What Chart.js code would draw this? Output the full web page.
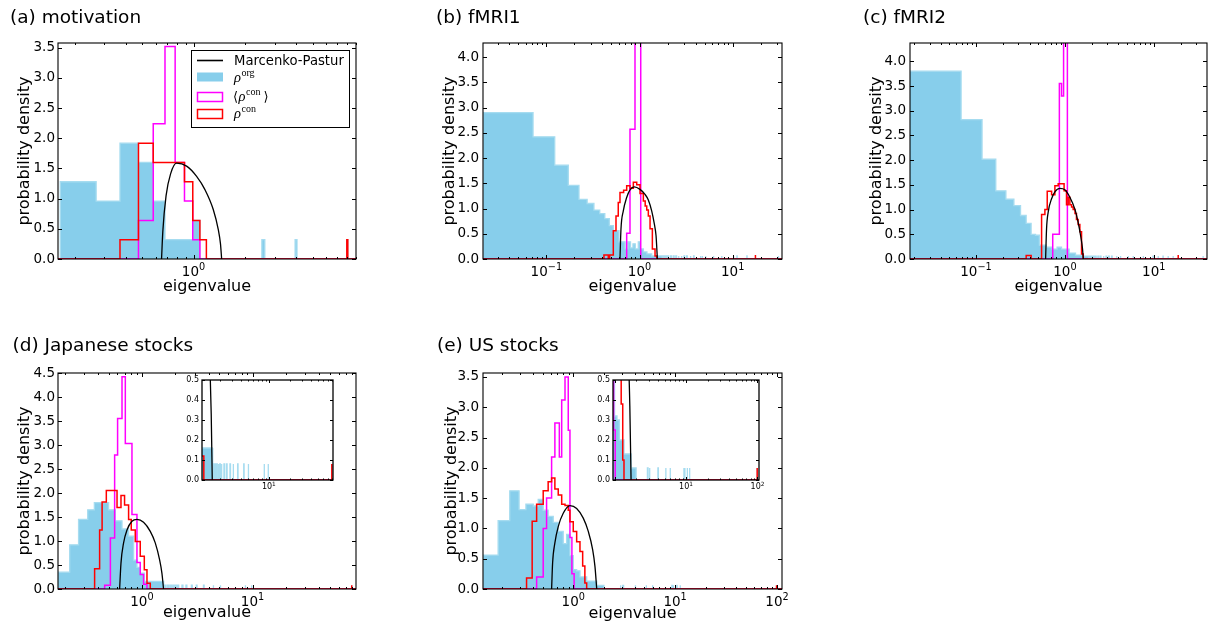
<!DOCTYPE html>
<html>
<head>
<meta charset="utf-8">
<script src="https://cdn.jsdelivr.net/npm/chart.js@4.4.1/dist/chart.umd.min.js"></script>
<style>
  html, body { margin: 0; padding: 0; background: #fff; }
  body { width: 1213px; height: 628px; position: relative; overflow: hidden; }
  canvas { position: absolute; }
</style>
</head>
<body>
<canvas id="chart-a"></canvas>
<canvas id="chart-b"></canvas>
<canvas id="chart-c"></canvas>
<canvas id="chart-d"></canvas>
<canvas id="chart-e"></canvas>
<canvas id="inset-d"></canvas>
<canvas id="inset-e"></canvas>
<script>
// ---- (a) motivation ----
const aBinWidth = 0.1025;
const aOrgEdges = [0.165, 0.268, 0.370, 0.475, 0.580, 0.680, 0.780, 0.885, 0.990, 1.090];
const aOrgDens = [1.28, 0.96, 1.92, 1.60, 0.96, 0.32, 0.32, 0.32, 0.64];
const aOrgTail = [2.52, 3.95, 7.95];
const aOrgTailDens = 0.32;
const aMeanEdges = [0.475, 0.580, 0.680, 0.780, 0.885, 0.990, 1.090];
const aMeanDens = [0.64, 2.24, 3.52, 1.60, 0.96, 0.32];
const aConEdges = [0.370, 0.475, 0.580, 0.680, 0.780, 0.885, 0.990, 1.090, 1.190];
const aConDens = [0.32, 1.92, 1.60, 1.60, 1.60, 1.28, 0.64, 0.32];
const aConTail = [7.95];
const aConTailDens = 0.32;
const aMpX = [0.649, 0.660, 0.690, 0.735, 0.795, 0.911, 1.043, 1.167, 1.306, 1.397, 1.440, 1.463];
const aMpY = [0, 0.45, 1.05, 1.42, 1.59, 1.54, 1.37, 1.15, 0.82, 0.49, 0.25, 0];

// ---- (b) fMRI1 ----
const bBinWidth = 0.05;
const bOrgEdges = [0.021, 0.072, 0.123, 0.172, 0.224, 0.274, 0.324, 0.374, 0.424, 0.474, 0.524, 0.602, 0.700, 0.750, 0.800, 0.850, 0.900, 0.970, 1.020, 1.100, 1.200, 1.350, 1.600, 1.750];
const bOrgDens = [2.90, 2.42, 1.86, 1.46, 1.18, 1.10, 0.97, 0.90, 0.80, 0.66, 0.56, 0.34, 0.20, 0.34, 0.22, 0.30, 0.20, 0.34, 0.20, 0.14, 0.10, 0.06, 0.06];
const bOrgTail = [1.80, 1.90, 2.00, 2.15, 2.30, 2.45, 2.60, 2.80, 3.00, 3.20, 3.50, 3.80, 4.50, 4.70, 5.10, 6.20, 7.60, 10.2, 11.1, 14.2, 31.0];
const bOrgTailDens = 0.06;
const bMeanEdges = [0.728, 0.790, 0.894, 1.030];
const bMeanDens = [0.51, 2.57, 9.0];
const bConEdges = [0.415, 0.462, 0.478, 0.523, 0.559, 0.591, 0.617, 0.675, 0.728, 0.790, 0.858, 0.933, 1.012, 1.099, 1.150, 1.195, 1.243, 1.297, 1.373, 1.467, 1.530];
const bConDens = [0.08, 0, 0.08, 0.56, 0.85, 1.12, 1.32, 1.36, 1.45, 1.40, 1.52, 1.47, 1.30, 1.15, 1.05, 0.97, 0.85, 0.60, 0.20, 0.06];
const bConTail = [17.5];
const bConTailDens = 0.08;
const bMpX = [0.617, 0.632, 0.669, 0.728, 0.790, 0.879, 1.012, 1.146, 1.243, 1.352, 1.443, 1.504, 1.554];
const bMpY = [0, 0.59, 0.95, 1.22, 1.37, 1.43, 1.38, 1.28, 1.17, 0.95, 0.69, 0.46, 0];

// ---- (c) fMRI2 ----
const cBinWidth = 0.05;
const cOrgEdges = [0.018, 0.068, 0.117, 0.167, 0.217, 0.267, 0.317, 0.367, 0.417, 0.467, 0.517, 0.617, 0.717, 0.817, 0.917, 1.017, 1.117, 1.317, 1.617, 1.850];
const cOrgDens = [3.80, 2.82, 2.02, 1.38, 1.21, 1.08, 0.88, 0.72, 0.50, 0.48, 0.28, 0.24, 0.20, 0.24, 0.20, 0.20, 0.12, 0.08, 0.06];
const cOrgTail = [1.90, 2.00, 2.10, 2.20, 2.35, 2.50, 2.70, 2.90, 3.10, 3.35, 3.80, 4.20, 5.15, 5.85, 7.60, 9.80, 11.2, 12.7, 14.5, 16.5, 35.9];
const cOrgTailDens = 0.06;
const cMeanEdges = [0.730, 0.867, 0.917, 0.967, 1.067];
const cMeanDens = [0.50, 3.55, 3.30, 9.0];
const cConEdges = [0.367, 0.417, 0.547, 0.596, 0.633, 0.709, 0.772, 0.841, 0.918, 0.980, 1.043, 1.090, 1.138, 1.190, 1.240, 1.300, 1.350, 1.410, 1.474, 1.540, 1.610];
const cConDens = [0.07, 0, 0.90, 1.00, 1.37, 1.30, 1.48, 1.52, 1.52, 1.38, 1.10, 1.25, 1.10, 1.05, 1.00, 0.92, 0.80, 0.70, 0.55, 0.10];
const cConTail = [18.8];
const cConTailDens = 0.08;
const cMpX = [0.607, 0.622, 0.649, 0.709, 0.772, 0.879, 1.000, 1.138, 1.295, 1.410, 1.513, 1.580, 1.610];
const cMpY = [0, 0.61, 0.95, 1.22, 1.36, 1.43, 1.40, 1.25, 1.01, 0.74, 0.44, 0.20, 0];

// ---- (d) Japanese stocks ----
const dBinWidth = 0.048;
const dOrgEdges = [0.174, 0.222, 0.267, 0.323, 0.371, 0.499, 0.574, 0.660, 0.757, 0.840, 0.901, 0.965, 1.050, 1.150, 1.570];
const dOrgDens = [0.35, 0.92, 1.45, 1.65, 1.80, 1.65, 1.42, 1.25, 1.10, 0.60, 0.45, 0.33, 0.16, 0.16];
const dOrgTail = [1.60, 1.70, 1.80, 1.90, 2.00, 2.10, 2.30, 2.50, 2.80, 3.10, 3.60, 4.40, 5.10, 8.60, 9.80, 78.9];
const dOrgTailDens = 0.08;
const dMeanEdges = [0.460, 0.518, 0.566, 0.602, 0.660, 0.707, 0.812, 0.901, 0.965, 1.034, 1.110];
const dMeanDens = [0.08, 1.06, 2.79, 3.55, 4.42, 3.03, 1.55, 0.55, 0.30, 0.10];
const dConEdges = [0.373, 0.414, 0.436, 0.476, 0.595, 0.646, 0.696, 0.757, 0.800, 0.870, 0.965, 1.050, 1.110, 1.189];
const dConDens = [0.42, 1.23, 1.81, 2.05, 1.70, 1.95, 1.75, 1.45, 1.23, 0.99, 0.68, 0.40, 0.12];
const dConTail = [78.9];
const dConTailDens = 0.08;
const dMpX = [0.628, 0.646, 0.682, 0.732, 0.812, 0.901, 1.034, 1.189, 1.319, 1.443, 1.515, 1.568];
const dMpY = [0, 0.54, 0.96, 1.23, 1.41, 1.45, 1.39, 1.20, 0.96, 0.61, 0.33, 0];

// ---- (e) US stocks ----
const eBinWidth = 0.06;
const eOrgEdges = [0.130, 0.183, 0.238, 0.294, 0.343, 0.405, 0.453, 0.507, 0.567, 0.636, 0.712, 0.797, 0.861, 0.928, 1.000, 1.080, 1.164, 1.354, 1.700, 2.000];
const eOrgDens = [0.56, 1.13, 1.62, 1.31, 1.40, 1.37, 1.48, 1.30, 1.20, 1.10, 0.95, 0.75, 0.90, 0.55, 0.32, 0.30, 0.20, 0.13, 0.06];
const eOrgTail = [2.88, 3.06, 4.04, 5.18, 5.98, 9.30, 9.60, 10.4, 11.2, 99.0];
const eOrgTailDens = 0.06;
const eMeanEdges = [0.437, 0.507, 0.547, 0.613, 0.660, 0.730, 0.770, 0.830, 0.893, 0.928, 0.970, 1.020];
const eMeanDens = [0.20, 1.00, 1.50, 2.18, 2.74, 2.18, 3.12, 3.50, 2.62, 0.85, 0.25];
const eConEdges = [0.348, 0.395, 0.437, 0.507, 0.567, 0.613, 0.660, 0.712, 0.770, 0.830, 0.893, 0.928, 1.000, 1.080, 1.164, 1.237, 1.300, 1.354];
const eConDens = [0.18, 1.12, 1.40, 1.62, 1.77, 1.83, 1.65, 1.55, 1.40, 1.38, 1.30, 1.11, 0.95, 0.78, 0.62, 0.38, 0.10];
const eConTail = [99.0];
const eConTailDens = 0.06;
const eMpX = [0.613, 0.627, 0.660, 0.712, 0.797, 0.928, 1.080, 1.254, 1.405, 1.550, 1.634, 1.700];
const eMpY = [0, 0.43, 0.76, 1.03, 1.25, 1.377, 1.33, 1.17, 0.95, 0.65, 0.37, 0];

// tick values
const yTicks35 = [0, 0.5, 1.0, 1.5, 2.0, 2.5, 3.0, 3.5];
const yTicks40 = [0, 0.5, 1.0, 1.5, 2.0, 2.5, 3.0, 3.5, 4.0];
const yTicks45 = [0, 0.5, 1.0, 1.5, 2.0, 2.5, 3.0, 3.5, 4.0, 4.5];
const yTicksInset = [0, 0.1, 0.2, 0.3, 0.4, 0.5];

const BLUE = '#87ceeb';
const BLUE_EDGE = '#a6dcf0';
const MAGENTA = '#ff00ff';
const RED = '#ff0000';
const FONT = "'DejaVu Sans', sans-serif";

Chart.defaults.font.family = FONT;
Chart.defaults.color = '#000';

// outline of a histogram: contiguous bins, then isolated single bins in the tail
function histPoints(edges, dens, tail, tailDens, width, lo, hi) {
    const pts = [];
    if (lo !== undefined) pts.push({x: lo, y: 0});
    pts.push({x: edges[0], y: 0});
    dens.forEach((h, i) => {
        pts.push({x: edges[i], y: h}, {x: edges[i + 1], y: h});
    });
    pts.push({x: edges[edges.length - 1], y: 0});
    tail.forEach(s => {
        pts.push({x: s, y: 0}, {x: s, y: tailDens}, {x: s + width, y: tailDens}, {x: s + width, y: 0});
    });
    if (hi !== undefined) pts.push({x: hi, y: 0});
    return pts;
}

function buildDatasets(p) {
    return [
        {
            label: 'Marcenko-Pastur',
            data: p.mpX.map((x, i) => ({x: x, y: p.mpY[i]})),
            borderColor: '#000', borderWidth: 1.3,
            cubicInterpolationMode: 'monotone', fill: false, order: 0
        },
        {
            label: 'con',
            data: histPoints(p.conEdges, p.conDens, p.conTail, p.conTailDens, p.binWidth, p.xMin, p.xMax),
            borderColor: RED, borderWidth: 1.5, fill: false, order: 1
        },
        {
            label: 'con mean',
            data: histPoints(p.meanEdges, p.meanDens, [], 0, p.binWidth, p.xMin, p.xMax),
            borderColor: MAGENTA, borderWidth: 1.5, fill: false, order: 2
        },
        {
            label: 'org',
            data: histPoints(p.orgEdges, p.orgDens, p.orgTail, p.orgTailDens, p.binWidth),
            borderColor: BLUE_EDGE, borderWidth: 1.3, backgroundColor: BLUE,
            fill: 'origin', order: 3
        }
    ];
}

// white background for the inset plots
const insetBackground = {
    id: 'insetBackground',
    beforeDatasetsDraw(chart) {
        const o = chart.options.plugins.insetBackground;
        if (!o || !o.show) return;
        const a = chart.chartArea;
        chart.ctx.save();
        chart.ctx.fillStyle = '#fff';
        chart.ctx.fillRect(a.left, a.top, a.right - a.left, a.bottom - a.top);
        chart.ctx.restore();
    }
};

// axes box, inward ticks on all sides, decade labels and panel title
const axesFrame = {
    id: 'axesFrame',
    afterDatasetsDraw(chart) {
        const o = chart.options.plugins.axesFrame;
        const {ctx, chartArea: a} = chart;
        const x = chart.scales.x, y = chart.scales.y;
        ctx.save();
        ctx.strokeStyle = '#000';
        ctx.lineWidth = 1;
        ctx.beginPath();
        o.yTicks.forEach(v => {
            const py = Math.round(y.getPixelForValue(v)) + 0.5;
            ctx.moveTo(a.left, py); ctx.lineTo(a.left + o.major, py);
            ctx.moveTo(a.right, py); ctx.lineTo(a.right - o.major, py);
        });
        const e0 = Math.floor(Math.log10(x.min)), e1 = Math.ceil(Math.log10(x.max));
        for (let e = e0; e <= e1; e++) {
            for (let k = 1; k <= 9; k++) {
                const v = k * Math.pow(10, e);
                if (v < x.min || v > x.max) continue;
                const px = Math.round(x.getPixelForValue(v)) + 0.5;
                const len = k === 1 ? o.major : o.minor;
                ctx.moveTo(px, a.bottom); ctx.lineTo(px, a.bottom - len);
                ctx.moveTo(px, a.top); ctx.lineTo(px, a.top + len);
            }
        }
        ctx.stroke();
        ctx.lineWidth = o.frameWidth;
        ctx.strokeRect(a.left, a.top, a.right - a.left, a.bottom - a.top);

        ctx.fillStyle = '#000';
        ctx.textBaseline = 'alphabetic';
        ctx.textAlign = 'left';
        o.xLabels.forEach(v => {
            const exp = Math.round(Math.log10(v));
            const expText = exp < 0 ? '\u2212' + (-exp) : String(exp);
            ctx.font = o.labelSize + 'px ' + FONT;
            const w1 = ctx.measureText('10').width;
            ctx.font = o.supSize + 'px ' + FONT;
            const w2 = ctx.measureText(expText).width;
            const px = x.getPixelForValue(v);
            const x0 = px - (w1 + w2) / 2;
            const by = a.bottom + o.labelOffset;
            ctx.font = o.labelSize + 'px ' + FONT;
            ctx.fillText('10', x0, by);
            ctx.font = o.supSize + 'px ' + FONT;
            ctx.fillText(expText, x0 + w1, by - o.supRaise);
        });
        if (o.title) {
            ctx.font = '18.5px ' + FONT;
            ctx.fillText(o.title, o.titleX, o.titleY);
        }
        ctx.restore();
    }
};

// legend of panel (a)
const mpLegend = {
    id: 'mpLegend',
    afterDraw(chart) {
        const o = chart.options.plugins.mpLegend;
        if (!o || !o.show) return;
        const ctx = chart.ctx;
        const sx = 197, sw = 26, tx = 234;
        ctx.save();
        ctx.fillStyle = '#fff';
        ctx.fillRect(191, 50, 158, 77);
        ctx.strokeStyle = '#000';
        ctx.lineWidth = 1;
        ctx.strokeRect(191.5, 50.5, 158, 77);

        ctx.lineWidth = 1.6;
        ctx.beginPath(); ctx.moveTo(sx, 60.5); ctx.lineTo(sx + sw, 60.5); ctx.stroke();
        ctx.fillStyle = BLUE;
        ctx.fillRect(sx, 72.5, sw, 9);
        ctx.lineWidth = 1.5;
        ctx.strokeStyle = MAGENTA; ctx.strokeRect(sx + 0.5, 92.5, sw - 1, 9);
        ctx.strokeStyle = RED; ctx.strokeRect(sx + 0.5, 109.5, sw - 1, 9);

        ctx.fillStyle = '#000';
        ctx.textBaseline = 'alphabetic';
        ctx.font = '13.2px ' + FONT;
        ctx.fillText('Marcenko-Pastur', tx, 65);

        const rho = "italic 14.5px 'Liberation Serif', serif";
        const sup = "10px 'Liberation Serif', serif";
        const bracket = "13px 'DejaVu Sans', 'Noto Sans CJK SC', sans-serif";
        function rhoSup(x0, base, text) {
            ctx.font = rho;
            ctx.fillText('\u03c1', x0, base);
            const w = ctx.measureText('\u03c1').width;
            ctx.font = sup;
            ctx.fillText(text, x0 + w + 0.5, base - 6);
            return x0 + w + 0.5 + ctx.measureText(text).width;
        }
        rhoSup(tx, 81.5, 'org');
        ctx.font = bracket;
        ctx.fillText('\u27e8', tx - 1, 101);
        const xe = rhoSup(tx + 4.5, 101, 'con');
        ctx.font = bracket;
        ctx.fillText('\u27e9', xe + 3, 101);
        rhoSup(tx, 117.5, 'con');
        ctx.restore();
    }
};

function makePanel(id, box, area, p, opts) {
    const cv = document.getElementById(id);
    cv.width = box.w;
    cv.height = box.h;
    cv.style.left = box.x + 'px';
    cv.style.top = box.y + 'px';
    const axisFont = {family: FONT, size: 16, lineHeight: 1.2};
    const lh = 16 * 1.2;
    const yScale = {
        type: 'linear', min: 0, max: opts.yMax,
        grid: {display: false, drawTicks: false},
        border: {display: false},
        ticks: {
            font: {family: FONT, size: opts.tickSize}, color: '#000', padding: opts.tickPad,
            autoSkip: false, callback: v => v.toFixed(1)
        },
        afterBuildTicks: s => { s.ticks = opts.yTicks.map(v => ({value: v})); },
        afterFit: s => { s.width = area.l - box.x; },
        title: {display: false}
    };
    const xScale = {
        type: 'logarithmic', min: opts.xMin, max: opts.xMax,
        grid: {display: false, drawTicks: false},
        border: {display: false},
        ticks: {display: false},
        afterFit: s => { s.height = box.y + box.h - area.b; },
        title: {display: false}
    };
    if (opts.yTitleX !== undefined) {
        yScale.title = {
            display: true, text: 'probability density', font: axisFont, color: '#000',
            padding: {top: opts.yTitleX - box.x - lh / 2, bottom: 0}
        };
        xScale.title = {
            display: true, text: 'eigenvalue', font: axisFont, color: '#000',
            padding: {top: 0, bottom: box.h - lh / 2 - (opts.xTitleY - box.y)}
        };
    }
    return new Chart(cv, {
        type: 'line',
        data: {datasets: buildDatasets(p)},
        options: {
            responsive: false,
            animation: false,
            events: [],
            devicePixelRatio: 1,
            layout: {padding: {left: 0, right: box.x + box.w - area.r, top: area.t - box.y, bottom: 0}},
            elements: {point: {radius: 0}, line: {tension: 0, borderJoinStyle: 'miter'}},
            plugins: {
                legend: {display: false},
                tooltip: {enabled: false},
                insetBackground: {show: !!opts.inset},
                mpLegend: {show: !!opts.legend},
                axesFrame: {
                    yTicks: opts.yTicks, xLabels: opts.xLabels,
                    major: opts.inset ? 3 : 4, minor: opts.inset ? 1.5 : 2,
                    frameWidth: opts.inset ? 1.3 : 1.1,
                    labelSize: opts.tickSize, supSize: opts.tickSize * 0.72,
                    labelOffset: opts.inset ? 9 : 17, supRaise: opts.inset ? 3.5 : 6,
                    title: opts.title, titleX: opts.titleX - box.x, titleY: opts.titleY - box.y
                }
            },
            scales: {x: xScale, y: yScale}
        },
        plugins: [insetBackground, axesFrame, mpLegend]
    });
}

const panelA = {binWidth: aBinWidth, xMin: 0.16, xMax: 9.0,
    orgEdges: aOrgEdges, orgDens: aOrgDens, orgTail: aOrgTail, orgTailDens: aOrgTailDens,
    meanEdges: aMeanEdges, meanDens: aMeanDens,
    conEdges: aConEdges, conDens: aConDens, conTail: aConTail, conTailDens: aConTailDens,
    mpX: aMpX, mpY: aMpY};
const panelB = {binWidth: bBinWidth, xMin: 0.0209, xMax: 33.8,
    orgEdges: bOrgEdges, orgDens: bOrgDens, orgTail: bOrgTail, orgTailDens: bOrgTailDens,
    meanEdges: bMeanEdges, meanDens: bMeanDens,
    conEdges: bConEdges, conDens: bConDens, conTail: bConTail, conTailDens: bConTailDens,
    mpX: bMpX, mpY: bMpY};
const panelC = {binWidth: cBinWidth, xMin: 0.0181, xMax: 39.7,
    orgEdges: cOrgEdges, orgDens: cOrgDens, orgTail: cOrgTail, orgTailDens: cOrgTailDens,
    meanEdges: cMeanEdges, meanDens: cMeanDens,
    conEdges: cConEdges, conDens: cConDens, conTail: cConTail, conTailDens: cConTailDens,
    mpX: cMpX, mpY: cMpY};
const panelD = {binWidth: dBinWidth, xMin: 0.174, xMax: 86.3,
    orgEdges: dOrgEdges, orgDens: dOrgDens, orgTail: dOrgTail, orgTailDens: dOrgTailDens,
    meanEdges: dMeanEdges, meanDens: dMeanDens,
    conEdges: dConEdges, conDens: dConDens, conTail: dConTail, conTailDens: dConTailDens,
    mpX: dMpX, mpY: dMpY};
const panelE = {binWidth: eBinWidth, xMin: 0.130, xMax: 112,
    orgEdges: eOrgEdges, orgDens: eOrgDens, orgTail: eOrgTail, orgTailDens: eOrgTailDens,
    meanEdges: eMeanEdges, meanDens: eMeanDens,
    conEdges: eConEdges, conDens: eConDens, conTail: eConTail, conTailDens: eConTailDens,
    mpX: eMpX, mpY: eMpY};

makePanel('chart-a', {x: 0, y: 0, w: 400, h: 305}, {l: 58, r: 356, t: 43, b: 259}, panelA,
    {xMin: 0.16, xMax: 9.0, yMax: 3.58, yTicks: yTicks35, xLabels: [1], tickSize: 13.5, tickPad: 3,
     yTitleX: 25, xTitleY: 287, title: '(a) motivation', titleX: 10, titleY: 22.5, legend: true});
makePanel('chart-b', {x: 405, y: 0, w: 400, h: 305}, {l: 483, r: 782, t: 43, b: 259}, panelB,
    {xMin: 0.0209, xMax: 33.8, yMax: 4.28, yTicks: yTicks40, xLabels: [0.1, 1, 10], tickSize: 13.5, tickPad: 4,
     yTitleX: 450, xTitleY: 287, title: '(b) fMRI1', titleX: 436, titleY: 22.5});
makePanel('chart-c', {x: 810, y: 0, w: 403, h: 305}, {l: 910, r: 1207, t: 43, b: 259}, panelC,
    {xMin: 0.0181, xMax: 39.7, yMax: 4.37, yTicks: yTicks40, xLabels: [0.1, 1, 10], tickSize: 13.5, tickPad: 4,
     yTitleX: 877, xTitleY: 287, title: '(c) fMRI2', titleX: 863, titleY: 22.5});
makePanel('chart-d', {x: 0, y: 322, w: 400, h: 306}, {l: 58, r: 356, t: 373, b: 589}, panelD,
    {xMin: 0.174, xMax: 86.3, yMax: 4.5, yTicks: yTicks45, xLabels: [1, 10], tickSize: 13.5, tickPad: 3,
     yTitleX: 25, xTitleY: 613, title: '(d) Japanese stocks', titleX: 12.5, titleY: 351});
makePanel('chart-e', {x: 405, y: 322, w: 400, h: 306}, {l: 483, r: 782, t: 373, b: 589}, panelE,
    {xMin: 0.130, xMax: 112, yMax: 3.565, yTicks: yTicks35, xLabels: [1, 10, 100], tickSize: 13.5, tickPad: 4,
     yTitleX: 452, xTitleY: 614, title: '(e) US stocks', titleX: 437, titleY: 351});

// zoomed views of the large-eigenvalue tails
makePanel('inset-d', {x: 172, y: 372, w: 166, h: 122}, {l: 202, r: 333, t: 380, b: 480}, panelD,
    {xMin: 1.12, xMax: 82, yMax: 0.5, yTicks: yTicksInset, xLabels: [10], tickSize: 8, tickPad: 3, inset: true});
makePanel('inset-e', {x: 583, y: 372, w: 182, h: 122}, {l: 613, r: 759, t: 380, b: 480}, panelE,
    {xMin: 0.95, xMax: 105, yMax: 0.5, yTicks: yTicksInset, xLabels: [10, 100], tickSize: 8, tickPad: 3, inset: true});
</script>
</body>
</html>
